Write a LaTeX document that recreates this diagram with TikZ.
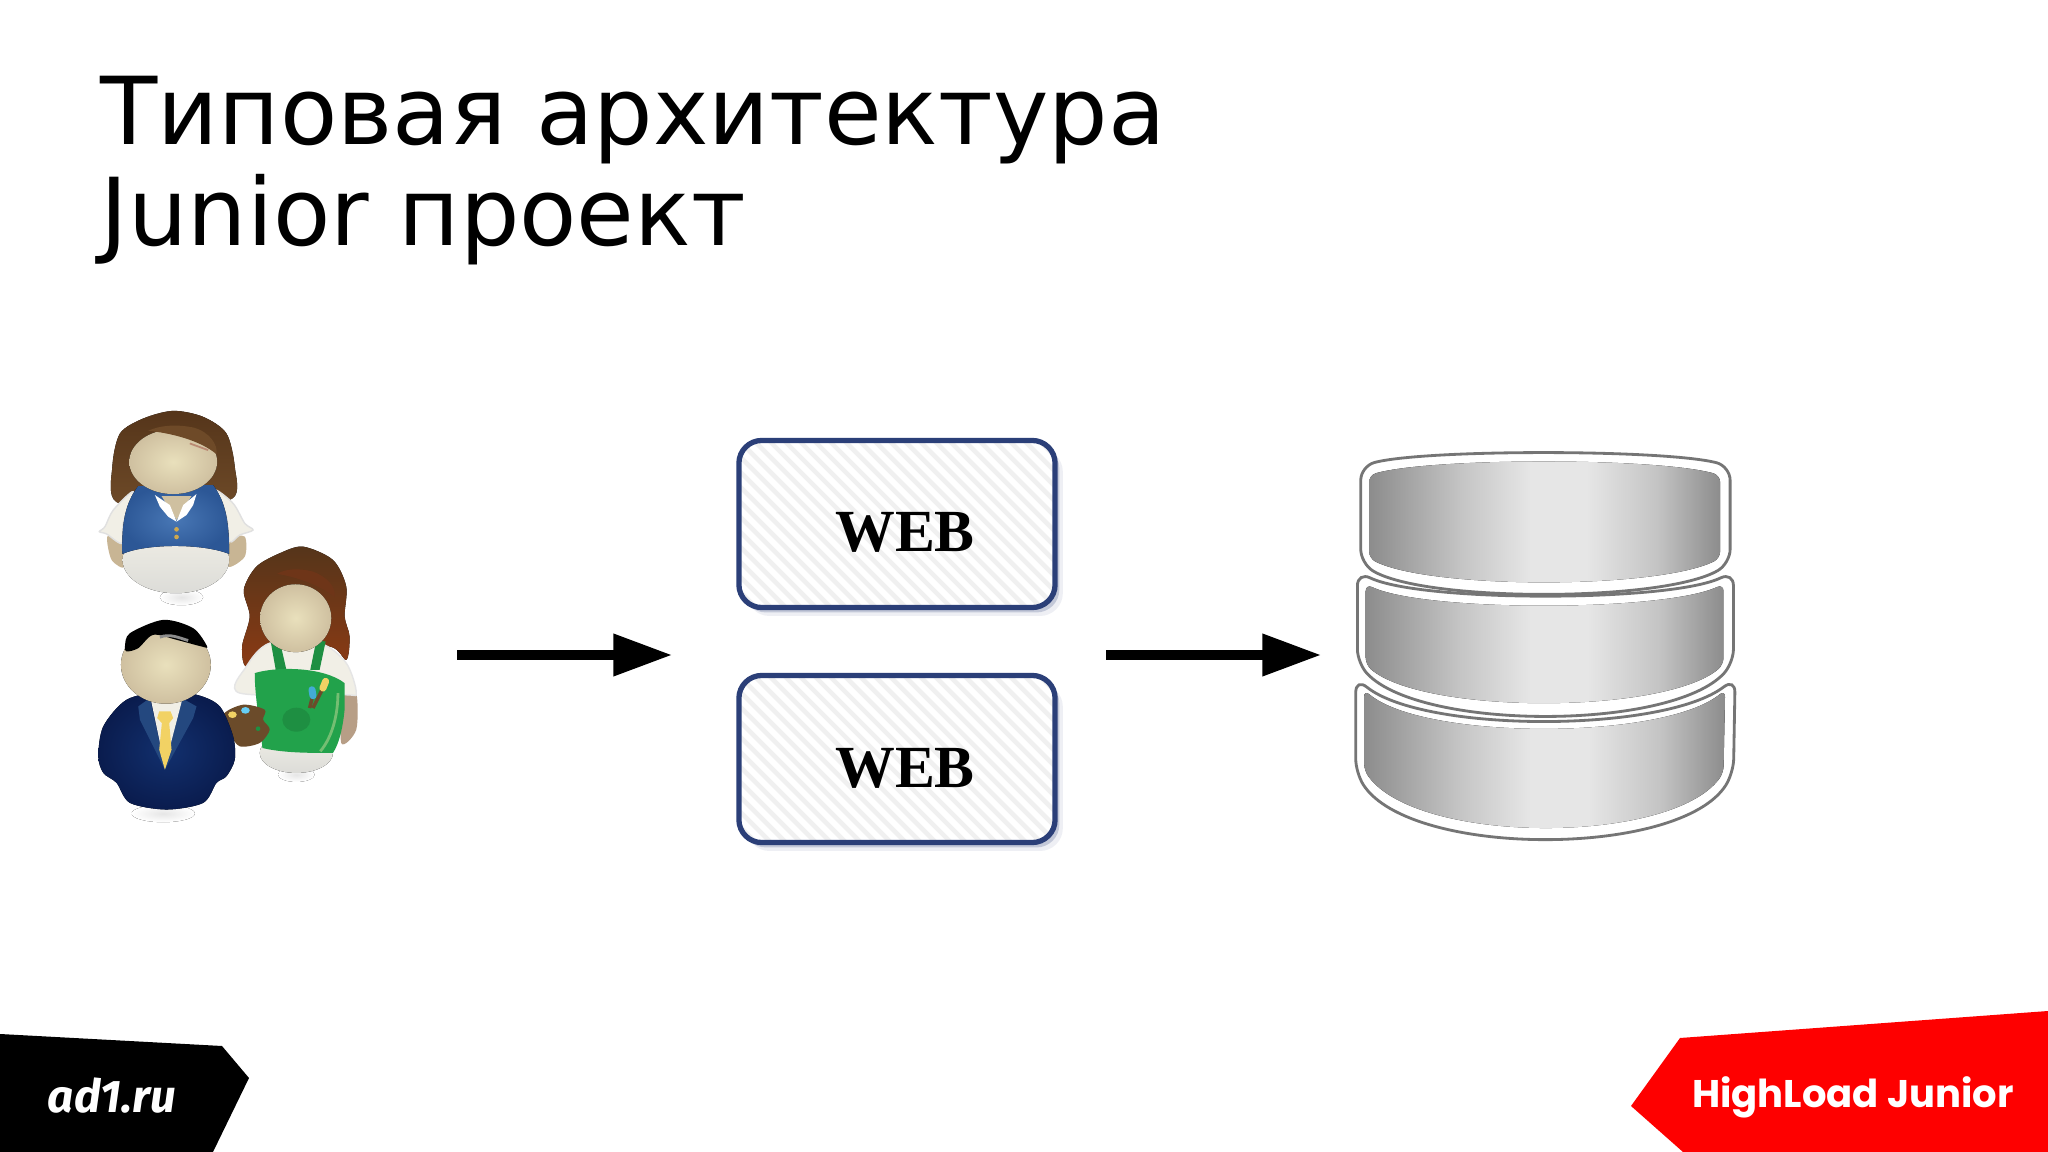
\documentclass[tikz,border=0pt]{standalone}
\usepackage{fontspec}
\usepackage{tikz}
\usetikzlibrary{arrows.meta,shadows}
\setmainfont{DejaVu Sans}
\newfontfamily\webfont{Liberation Serif}
\newfontfamily\adfont{Fira Sans}
\newfontfamily\hlfont{Poppins}

\definecolor{skindark}{HTML}{CFC0A0}
\definecolor{skinlight}{HTML}{E9E0BC}
\definecolor{armskin}{HTML}{C8B594}
\definecolor{armbrown}{HTML}{B79E86}
\definecolor{shirtwhite}{HTML}{F1EFE6}
\definecolor{bellygray}{HTML}{DCDCD8}
\definecolor{webblue}{HTML}{2B3F78}
\definecolor{hlred}{HTML}{FE0000}
\definecolor{diskedge}{HTML}{757575}
\definecolor{diskside}{HTML}{8C8C8C}
\definecolor{diskhalf}{HTML}{C4C4C4}
\definecolor{diskmid}{HTML}{E6E6E6}
\definecolor{hairdark}{HTML}{55351A}
\definecolor{hairmid}{HTML}{6E4A28}
\definecolor{hairred}{HTML}{8A3A14}
\definecolor{hairfringe}{HTML}{6E3518}
\definecolor{vestlight}{HTML}{4877B5}
\definecolor{vestdark}{HTML}{2C5796}
\definecolor{apron}{HTML}{22A24B}
\definecolor{apronfold}{HTML}{1E8F42}
\definecolor{apronseam}{HTML}{74BE72}
\definecolor{suitlight}{HTML}{12306E}
\definecolor{suitdark}{HTML}{0A1C4E}
\definecolor{lapel}{HTML}{24487F}
\definecolor{tiegold}{HTML}{F2D264}
\definecolor{woodbrown}{HTML}{6B4B2A}
\definecolor{buttongold}{HTML}{CFA84E}

\pgfdeclarehorizontalshading{diskshade}{100bp}{color(0bp)=(diskside); color(25bp)=(diskside);
	color(38bp)=(diskhalf); color(48bp)=(diskmid); color(56bp)=(diskmid); color(66bp)=(diskhalf); color(75bp)=(diskside); color(100bp)=(diskside)}

\tikzset{
	webbox/.style={draw=webblue,line width=1.5pt,rounded corners=6.5pt,fill=white,
		minimum width=3.16cm,minimum height=1.67cm,inner sep=0pt,
		drop shadow={shadow xshift=2.2pt,shadow yshift=-2.4pt,fill=webblue,opacity=.08},
		drop shadow={shadow xshift=1.2pt,shadow yshift=-1.4pt,fill=webblue,opacity=.22},
		path picture={
			\foreach \k in {-16,...,30}
				\draw[black!6,line width=1.3pt] ([xshift=\k*0.15cm]path picture bounding box.north west) -- ++(2.2cm,-2.2cm);
		}},
	webtext/.style={font=\webfont\bfseries\fontsize{17}{20}\selectfont,inner sep=0pt},
	flow/.style={line width=2.6pt,-{Triangle[length=16.7pt,width=11.5pt]}},
	outerdisk/.style={fill=white,draw=diskedge,line width=.8pt,rounded corners=4pt},
	innerdisk/.style={shading=diskshade,rounded corners=2pt},
	shadowspot/.style={inner color=black!10,outer color=white},
	headskin/.style={inner color=skinlight,outer color=skindark},
	bellyskin/.style={top color=shirtwhite,bottom color=bellygray}
}

\begin{document}
\begin{tikzpicture}[x=0.01cm,y=-0.01cm]
	\useasboundingbox[fill=white] (0,0) rectangle (2048,1152);

	\node[anchor=north west,align=left,inner sep=0pt,font=\fontsize{26.65}{28.9}\selectfont] (title) at (100,75)
		{Типовая архитектура\\Junior проект};

	% people
	\begin{scope}[shift={(0.7cm,-3.9cm)},x=0.003333cm,y=-0.003333cm]
		% top woman
		\fill[shadowspot] (335,622) ellipse [x radius=65,y radius=24];
		\fill[top color=hairdark,bottom color=hairmid]
			plot[smooth cycle] coordinates {(138,335)(127,230)(150,130)(220,85)(310,62)(400,80)(470,130)(495,230)(488,325)(310,350)};
		\fill[armskin] plot[smooth cycle] coordinates {(112,440)(150,430)(165,530)(125,510)};
		\fill[armskin] plot[smooth cycle] coordinates {(480,450)(525,440)(525,500)(475,530)};
		\fill[shirtwhite,draw=black!12] plot[smooth cycle] coordinates {(190,305)(130,360)(105,410)(88,425)(110,432)(155,460)(160,400)};
		\fill[shirtwhite,draw=black!12] plot[smooth cycle] coordinates {(435,300)(490,340)(525,400)(550,420)(510,435)(480,455)(470,380)};
		\fill[bellyskin] (318,510) ellipse [x radius=160,y radius=100];
		\fill[inner color=vestlight,outer color=vestdark] (205,288) .. controls (165,340) and (155,400) .. (157,492)
			.. controls (230,460) and (400,460) .. (478,492) .. controls (478,400) and (470,340) .. (430,285) -- cycle;
		\fill[skindark] (275,318) -- (320,390) -- (365,318) -- cycle;
		\fill[white] (255,315) -- (300,345) -- (320,395) -- (295,380) -- (270,350) -- cycle;
		\fill[white] (380,312) -- (340,345) -- (320,395) -- (350,375) -- (370,345) -- cycle;
		\fill[headskin] (310,215) ellipse [x radius=132,y radius=97];
		\fill[hairmid] (235,122) .. controls (300,128) and (390,150) .. (440,192) .. controls (445,165) and (420,125) .. (370,112) .. controls (320,102) and (270,105) .. cycle;
		\draw[hairred!60!white,line width=.5pt] (360,160) -- (415,180);
		\fill[buttongold] (320,418) circle (7);
		\fill[buttongold] (320,441) circle (7);

		% woman in the apron
		\fill[shadowspot] (680,1155) ellipse [x radius=55,y radius=22];
		\fill[top color=hairdark,bottom color=hairred]
			plot[smooth cycle] coordinates {(700,470)(790,510)(830,590)(825,680)(840,740)(830,810)(780,770)(600,770)(530,830)(517,770)(540,680)(522,600)(560,530)(630,490)};
		\fill[armbrown] plot[smooth cycle] coordinates {(820,900)(860,910)(860,1020)(815,1060)};
		\fill[shirtwhite,draw=black!10] plot[smooth cycle] coordinates {(600,760)(750,760)(830,820)(860,910)(820,915)(510,910)(530,830)};
		\fill[bellyskin] (680,1090) ellipse [x radius=110,y radius=60];
		\fill[apronfold] (603,755) -- (630,752) -- (650,840) -- (618,840) -- cycle;
		\fill[apronfold] (740,752) -- (768,755) -- (750,840) -- (722,840) -- cycle;
		\fill[apron] (555,850) .. controls (620,830) and (760,830) .. (825,880)
			-- (825,960) .. controls (820,1010) and (810,1060) .. (790,1090) .. controls (720,1090) and (640,1090) .. (578,1075)
			.. controls (570,1000) and (555,920) .. cycle;
		\fill[apronfold] (680,990) ellipse [x radius=42,y radius=36];
		\draw[apronseam,line width=.8pt] (752,1085) .. controls (790,1040) and (805,970) .. (805,910);
		\draw[woodbrown,line width=1pt] (720,955) -- (730,915);
		\draw[woodbrown,line width=1pt] (730,955) -- (760,895);
		\draw[cyan!70!gray,line width=2pt,line cap=round] (730,918) -- (727,900);
		\draw[tiegold,line width=2pt,line cap=round] (760,895) -- (768,875);
		\fill[woodbrown] plot[smooth cycle] coordinates {(460,975)(520,945)(585,960)(580,990)(600,1020)(570,1060)(510,1070)(480,1030)};
		\fill[tiegold] (488,975) ellipse [x radius=13,y radius=10];
		\fill[cyan!60!white] (527,962) ellipse [x radius=13,y radius=10];
		\fill[apronfold] (565,1017) circle (7);
		\fill[headskin] (678,685) ellipse [x radius=107,y radius=102];
		\fill[hairfringe] (622,552) .. controls (680,560) and (760,590) .. (795,622) .. controls (800,590) and (770,560) .. (730,545) .. controls (690,535) and (650,535) .. cycle;

		% man in the suit
		\fill[shadowspot] (280,1272) ellipse [x radius=95,y radius=26];
		\fill[inner color=suitlight,outer color=suitdark] plot[smooth cycle] coordinates {(170,930)(280,905)(380,915)(450,950)(490,1040)(495,1110)(470,1160)(440,1180)(400,1240)(290,1260)(180,1240)(140,1180)(100,1150)(85,1100)(100,1010)};
		\fill[lapel] (205,950) -- (240,925) -- (285,1135) -- (335,925) -- (380,950) -- (370,985) -- (285,1140) -- (210,990) -- cycle;
		\fill[shirtwhite] (243,930) -- (337,930) -- (285,1130) -- cycle;
		\fill[tiegold] (268,965) -- (302,965) -- (310,985) -- (298,1000) -- (305,1080) -- (285,1140) -- (268,1080) -- (276,1000) -- (262,985) -- cycle;
		\fill[headskin] (288,825) ellipse [x radius=135,y radius=117];
		\fill[black] plot[smooth cycle] coordinates {(165,770)(180,730)(280,690)(370,715)(412,770)(395,770)(320,750)(250,735)(205,775)(170,785)};
		\draw[black!45,line width=.8pt] (270,742) .. controls (300,730) and (330,745) .. (355,752);
	\end{scope}

	% web nodes
	\node[webbox] (web1) at (897,524) {};
	\node[webbox] (web2) at (897,759) {};
	\node[webtext] (label1) at (905,532) {WEB};
	\node[webtext] (label2) at (905,768) {WEB};

	% database
	\begin{scope}[shift={(13.3cm,-4.3cm)},x=0.003333cm,y=-0.003333cm]
		\draw[outerdisk] (75,745) .. controls (280,910) and (1000,910) .. (1215,745) -- (1210,1030) .. controls (1050,1285) and (240,1285) .. (75,1030) -- cycle;
		\fill[innerdisk] (100,780) .. controls (280,932) and (1000,932) .. (1185,780) -- (1180,1030) .. controls (1020,1246) and (260,1246) .. (100,1022) -- cycle;
		\draw[outerdisk] (80,425) .. controls (270,517) and (1020,517) .. (1210,425) -- (1210,700) .. controls (1020,903) and (270,903) .. (80,700) -- cycle;
		\fill[innerdisk] (105,462) .. controls (280,546) and (1000,546) .. (1180,462) -- (1180,705) .. controls (1000,854) and (280,854) .. (105,705) -- cycle;
		\draw[outerdisk] (90,108) .. controls (280,57) and (1000,57) .. (1200,108) -- (1200,400) .. controls (1000,517) and (280,517) .. (90,400) -- cycle;
		\fill[innerdisk] (115,135) .. controls (300,82) and (980,82) .. (1170,135) -- (1170,385) .. controls (980,478) and (300,478) .. (115,385) -- cycle;
	\end{scope}

	\coordinate (usersout) at (457,655);
	\coordinate (webin) at (672,655);
	\coordinate (webout) at (1106,655);
	\coordinate (dbin) at (1321,655);
	\draw[flow] (usersout) -- (webin);
	\draw[flow] (webout) -- (dbin);

	% footer
	\fill[black] (0,1034) -- (222,1046) -- (249,1078) -- (213,1152) -- (0,1152) -- cycle;
	\fill[hlred] (1680,1038) -- (2048,1011) -- (2048,1152) -- (1683,1152) -- (1631,1106) -- cycle;
	\node[text=white,inner sep=0pt,font=\adfont\bfseries\itshape\fontsize{13}{16}\selectfont] (adlogo) at (112,1096) {ad1.ru};
	\node[text=white,inner sep=0pt,font=\hlfont\bfseries\fontsize{10.95}{14}\selectfont] (hllogo) at (1853,1097) {HighLoad Junior};
\end{tikzpicture}
\end{document}
